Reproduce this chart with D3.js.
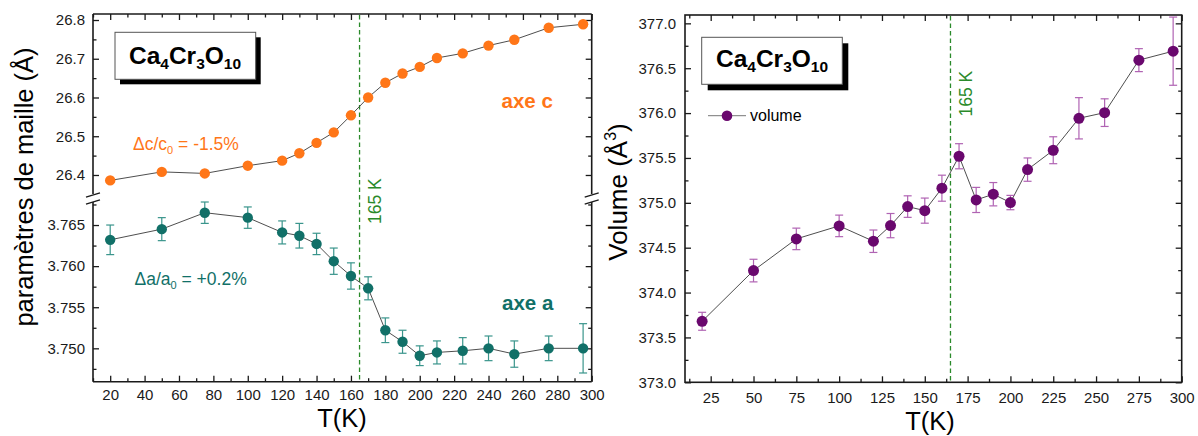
<!DOCTYPE html>
<html><head><meta charset="utf-8">
<script src="https://cdn.jsdelivr.net/npm/d3@7"></script>
<style>body{margin:0;background:#fff} svg{display:block} text{font-family:"Liberation Sans",Arial,sans-serif}</style>
</head><body><svg id="c" width="1198" height="436"></svg>
<script>
// ---- data ----
const temps = [20, 50, 75, 100, 120, 130, 140, 150, 160, 170, 180, 190, 200, 210, 225, 240, 255, 275, 295];
const cAxis = [26.386, 26.408, 26.404, 26.424, 26.437, 26.456, 26.483, 26.510, 26.554, 26.600, 26.638, 26.662, 26.679, 26.702, 26.714, 26.734, 26.749, 26.780, 26.789];
const aAxis = [3.7632, 3.7645, 3.7665, 3.7659, 3.7641, 3.7637, 3.7627, 3.7606, 3.7588, 3.7573, 3.7522, 3.7508, 3.7491, 3.7495, 3.7497, 3.7500, 3.7493, 3.7500, 3.7500];
const aErr = [0.0018, 0.0014, 0.0013, 0.0013, 0.0014, 0.0015, 0.0013, 0.0016, 0.0016, 0.0014, 0.0015, 0.0014, 0.0012, 0.0014, 0.0016, 0.0015, 0.0016, 0.0015, 0.0030];
const volume = [373.68, 374.245, 374.598, 374.743, 374.572, 374.746, 374.958, 374.913, 375.163, 375.519, 375.032, 375.096, 375.003, 375.37, 375.586, 375.942, 376.005, 376.59, 376.69];
const volErr = [0.10, 0.126, 0.12, 0.12, 0.125, 0.135, 0.12, 0.14, 0.145, 0.14, 0.14, 0.13, 0.08, 0.13, 0.15, 0.23, 0.154, 0.128, 0.38];
const transitionT = 165;
const xTicksLeft = [20, 40, 60, 80, 100, 120, 140, 160, 180, 200, 220, 240, 260, 280, 300];
const xMinorLeft = [10, 30, 50, 70, 90, 110, 130, 150, 170, 190, 210, 230, 250, 270, 290];
const xTicksRight = [25, 50, 75, 100, 125, 150, 175, 200, 225, 250, 275, 300];
const xMinorRight = [12.5, 37.5, 62.5, 87.5, 112.5, 137.5, 162.5, 187.5, 212.5, 237.5, 262.5, 287.5];
const cTicks = [26.4, 26.5, 26.6, 26.7, 26.8];
const cMinor = [26.45, 26.55, 26.65, 26.75];
const aTicks = [3.750, 3.755, 3.760, 3.765];
const aMinor = [3.7475, 3.7525, 3.7575, 3.7625, 3.7675];
const vTicks = [373.0, 373.5, 374.0, 374.5, 375.0, 375.5, 376.0, 376.5, 377.0];
const vMinor = [373.25, 373.75, 374.25, 374.75, 375.25, 375.75, 376.25, 376.75];

const svg = d3.select("#c");
const ORANGE = "#ff7618", TEAL = "#117068", TEAL_E = "#3a958c", PURPLE = "#6a086e", PURPLE_E = "#b063b3";
const GREEN = "#2a8a2a", FRAME = "#1a1a1a";

// ---- scales ----
const xL = d3.scaleLinear([10, 300], [93, 591.7]);
const yC = d3.scaleLinear([26.3535, 26.8155], [193, 14]);
const yA = d3.scaleLinear([3.74594, 3.76768], [381.7, 203]);
const xR = d3.scaleLinear([10, 300], [685, 1181.7]);
const yV = d3.scaleLinear([373, 377.093], [382.3, 15]);

function styleAxis(g) {
  g.select(".domain").remove();
  g.attr("font-size", 15).attr("font-family", '"Liberation Sans",Arial,sans-serif').attr("color", FRAME);
  g.selectAll("line").attr("stroke-width", 1.3);
}
function axisSet(g, axisFn, scale, major, minor, pos, labelFmt, pad, majLen = 6, minLen = 3.5) {
  const ax = axisFn(scale).tickValues(major).tickSizeInner(-majLen).tickSizeOuter(0).tickPadding(pad);
  if (labelFmt) ax.tickFormat(labelFmt); else ax.tickFormat("");
  g.append("g").attr("transform", pos).call(ax).call(styleAxis);
  g.append("g").attr("transform", pos)
    .call(axisFn(scale).tickValues(minor).tickSizeInner(-minLen).tickSizeOuter(0).tickFormat(""))
    .call(styleAxis);
}

// ================= LEFT PANEL =================
const gl = svg.append("g");
const [lx0, lx1] = xL.range();
axisSet(gl, d3.axisBottom, xL, xTicksLeft, xMinorLeft, `translate(0,381.7)`, d3.format("d"), 8);
axisSet(gl, d3.axisTop, xL, xTicksLeft, xMinorLeft, `translate(0,14)`, null, 0);
axisSet(gl, d3.axisLeft, yC, cTicks, cMinor, `translate(${lx0},0)`, d3.format(".1f"), 8);
axisSet(gl, d3.axisRight, yC, cTicks, cMinor, `translate(${lx1},0)`, null, 0);
axisSet(gl, d3.axisLeft, yA, aTicks, aMinor, `translate(${lx0},0)`, d3.format(".3f"), 8);
axisSet(gl, d3.axisRight, yA, aTicks, aMinor, `translate(${lx1},0)`, null, 0);

// frame with breaks
const fr = gl.append("g").attr("stroke", FRAME).attr("stroke-width", 1.6).attr("fill", "none");
fr.append("line").attr("x1", lx0).attr("x2", lx1).attr("y1", 14).attr("y2", 14);
fr.append("line").attr("x1", lx0).attr("x2", lx1).attr("y1", 381.7).attr("y2", 381.7);
[lx0, lx1].forEach(x => {
  fr.append("line").attr("x1", x).attr("x2", x).attr("y1", 14).attr("y2", yC.range()[0] + 1);
  fr.append("line").attr("x1", x).attr("x2", x).attr("y1", yA.range()[1] - 1).attr("y2", 381.7);
  [yC.range()[0] + 2, yA.range()[1] - 1].forEach(yy => {
    fr.append("line").attr("stroke-width", 1.3).attr("x1", x - 7).attr("y1", yy + 2.2).attr("x2", x + 7).attr("y2", yy - 2.2);
  });
});

gl.append("line").attr("x1", xL(transitionT)).attr("x2", xL(transitionT)).attr("y1", 15).attr("y2", 381)
  .attr("stroke", GREEN).attr("stroke-width", 1.3).attr("stroke-dasharray", "4.5,3");
gl.append("text").attr("transform", `translate(${xL(transitionT) + 21.5},224) rotate(-90)`)
  .attr("fill", GREEN).attr("font-size", 17.5).text("165 K");

const cData = temps.map((t, i) => ({ t, v: cAxis[i] }));
gl.append("path").datum(cData).attr("fill", "none").attr("stroke", "#3a3a3a").attr("stroke-width", 0.9)
  .attr("d", d3.line().x(d => xL(d.t)).y(d => yC(d.v)));
gl.selectAll(".cpt").data(cData).join("circle").attr("cx", d => xL(d.t)).attr("cy", d => yC(d.v)).attr("r", 5.2).attr("fill", ORANGE);

const aData = temps.map((t, i) => ({ t, v: aAxis[i], e: aErr[i] }));
gl.append("path").datum(aData).attr("fill", "none").attr("stroke", "#3a3a3a").attr("stroke-width", 0.9)
  .attr("d", d3.line().x(d => xL(d.t)).y(d => yA(d.v)));
const ea = gl.append("g").attr("stroke", TEAL_E).attr("stroke-width", 1.2);
aData.forEach(d => {
  const x = xL(d.t), y1 = yA(d.v - d.e), y2 = yA(d.v + d.e);
  ea.append("line").attr("x1", x).attr("x2", x).attr("y1", y1).attr("y2", y2);
  ea.append("line").attr("x1", x - 4).attr("x2", x + 4).attr("y1", y1).attr("y2", y1);
  ea.append("line").attr("x1", x - 4).attr("x2", x + 4).attr("y1", y2).attr("y2", y2);
});
gl.selectAll(".apt").data(aData).join("circle").attr("cx", d => xL(d.t)).attr("cy", d => yA(d.v)).attr("r", 5.2).attr("fill", TEAL);

function formulaBox(g, x, y, w, h, off, cx, by) {
  g.append("rect").attr("x", x + off).attr("y", y + off).attr("width", w).attr("height", h).attr("fill", "#000");
  g.append("rect").attr("x", x).attr("y", y).attr("width", w).attr("height", h).attr("fill", "#fff").attr("stroke", "#555").attr("stroke-width", 1);
  const t = g.append("text").attr("x", cx).attr("y", by).attr("text-anchor", "middle").attr("font-weight", "bold").attr("font-size", 24.5).attr("fill", "#000");
  const parts = [["Ca", 0], ["4", 1], ["Cr", 0], ["3", 1], ["O", 0], ["10", 1]];
  let shifted = false;
  parts.forEach(([s, sub]) => {
    const ts = t.append("tspan").text(s);
    if (sub) { ts.attr("font-size", 15.5).attr("dy", shifted ? 0 : 5); shifted = true; }
    else { ts.attr("dy", shifted ? -5 : 0); shifted = false; }
  });
}
formulaBox(gl, 115, 32.3, 140.7, 47, 5, 185, 63.5);

const dc = gl.append("text").attr("x", 133).attr("y", 150).attr("fill", ORANGE).attr("font-size", 17.5);
dc.append("tspan").text("\u0394c/c");
dc.append("tspan").attr("font-size", 11).attr("dy", 4).text("0");
dc.append("tspan").attr("dy", -4).text(" = -1.5%");
gl.append("text").attr("x", 501.5).attr("y", 107.5).attr("fill", ORANGE).attr("font-size", 20.5).attr("font-weight", "bold").text("axe c");

const da = gl.append("text").attr("x", 134.5).attr("y", 285).attr("fill", TEAL).attr("font-size", 17.5);
da.append("tspan").text("\u0394a/a");
da.append("tspan").attr("font-size", 11).attr("dy", 4).text("0");
da.append("tspan").attr("dy", -4).text(" = +0.2%");
gl.append("text").attr("x", 502).attr("y", 310).attr("fill", TEAL).attr("font-size", 20.5).attr("font-weight", "bold").text("axe a");

gl.append("text").attr("transform", "translate(33,187) rotate(-90)").attr("text-anchor", "middle")
  .attr("font-size", 25.5).attr("fill", "#000").text("paramètres de maille (Å)");
gl.append("text").attr("x", 342).attr("y", 427).attr("text-anchor", "middle").attr("font-size", 25.5).attr("fill", "#000").text("T(K)");

// ================= RIGHT PANEL =================
const gr = svg.append("g");
const [rx0, rx1] = xR.range();
axisSet(gr, d3.axisBottom, xR, xTicksRight, xMinorRight, `translate(0,${yV.range()[0]})`, d3.format("d"), 10);
axisSet(gr, d3.axisTop, xR, xTicksRight, xMinorRight, `translate(0,15)`, null, 0);
axisSet(gr, d3.axisLeft, yV, vTicks, vMinor, `translate(${rx0},0)`, d3.format(".1f"), 9);
axisSet(gr, d3.axisRight, yV, vTicks, vMinor, `translate(${rx1},0)`, null, 0);
gr.append("rect").attr("x", rx0).attr("y", 15).attr("width", rx1 - rx0).attr("height", yV.range()[0] - 15)
  .attr("fill", "none").attr("stroke", FRAME).attr("stroke-width", 1.6);

gr.append("line").attr("x1", xR(transitionT)).attr("x2", xR(transitionT)).attr("y1", 16).attr("y2", yV.range()[0] - 1)
  .attr("stroke", GREEN).attr("stroke-width", 1.3).attr("stroke-dasharray", "4.5,3");
gr.append("text").attr("transform", `translate(${xR(transitionT) + 21.5},116.5) rotate(-90)`)
  .attr("fill", GREEN).attr("font-size", 17.5).text("165 K");

const vData = temps.map((t, i) => ({ t, v: volume[i], e: volErr[i] }));
gr.append("path").datum(vData).attr("fill", "none").attr("stroke", "#3a3a3a").attr("stroke-width", 0.9)
  .attr("d", d3.line().x(d => xR(d.t)).y(d => yV(d.v)));
const ev = gr.append("g").attr("stroke", PURPLE_E).attr("stroke-width", 1.2);
vData.forEach(d => {
  const x = xR(d.t), y1 = yV(d.v - d.e), y2 = yV(d.v + d.e);
  ev.append("line").attr("x1", x).attr("x2", x).attr("y1", y1).attr("y2", y2);
  ev.append("line").attr("x1", x - 4).attr("x2", x + 4).attr("y1", y1).attr("y2", y1);
  ev.append("line").attr("x1", x - 4).attr("x2", x + 4).attr("y1", y2).attr("y2", y2);
});
gr.selectAll(".vpt").data(vData).join("circle").attr("cx", d => xR(d.t)).attr("cy", d => yV(d.v)).attr("r", 5.5).attr("fill", PURPLE);

formulaBox(gr, 701.7, 37.3, 140.6, 47, 6, 772, 66.7);

gr.append("line").attr("x1", 708).attr("x2", 746).attr("y1", 115.7).attr("y2", 115.7).attr("stroke", "#777").attr("stroke-width", 1);
gr.append("circle").attr("cx", 727).attr("cy", 115.7).attr("r", 5.3).attr("fill", PURPLE);
gr.append("text").attr("x", 750).attr("y", 121).attr("font-size", 16).attr("fill", "#000").text("volume");

const vt = gr.append("text").attr("transform", "translate(627,192) rotate(-90)").attr("text-anchor", "middle")
  .attr("font-size", 26).attr("fill", "#000");
vt.append("tspan").text("Volume (Å");
vt.append("tspan").attr("font-size", 16).attr("dy", -11).text("3");
vt.append("tspan").attr("dy", 11).text(")");
gr.append("text").attr("x", 930).attr("y", 430).attr("text-anchor", "middle").attr("font-size", 25.5).attr("fill", "#000").text("T(K)");
</script></body></html>
